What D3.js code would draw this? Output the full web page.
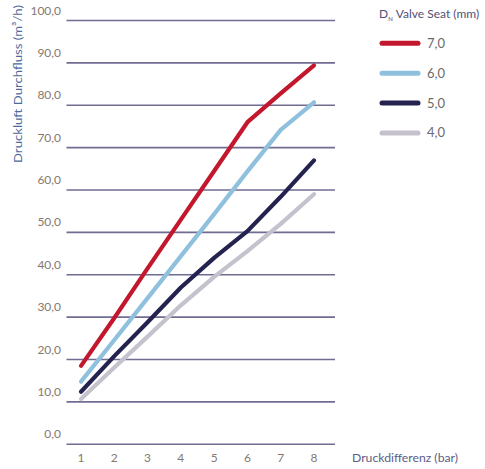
<!DOCTYPE html>
<html><head><meta charset="utf-8">
<script src="https://cdn.jsdelivr.net/npm/d3@7"></script>
<style>
html,body{margin:0;padding:0;background:#fff;}
svg{display:block;font-family:Lato,"Open Sans",sans-serif;}
</style></head>
<body>
<svg id="chart" width="485" height="469"></svg>
<script>
const xValues = [1, 2, 3, 4, 5, 6, 7, 8];
const yTicks = [0, 10, 20, 30, 40, 50, 60, 70, 80, 90, 100];
const seriesNames = ["7,0", "6,0", "5,0", "4,0"];
const seriesColors = ["#c3172e", "#8fc0dd", "#24234f", "#c5c2cd"];
const s70 = [18.5, 29.8, 41.5, 53.0, 64.5, 76.0, 82.8, 89.4];
const s60 = [14.8, 24.6, 34.5, 44.4, 54.3, 64.4, 74.2, 80.7];
const s50 = [12.4, 20.8, 28.8, 37.0, 44.0, 50.3, 58.4, 67.0];
const s40 = [10.7, 18.1, 25.4, 32.8, 39.5, 45.6, 52.0, 59.0];
const seriesValues = [s70, s60, s50, s40];
const xTitle = "Druckdifferenz (bar)";
const yTitle = "Druckluft Durchfluss (m³/h)";

const svg = d3.select("#chart");
const x = d3.scaleLinear().domain([1, 8]).range([81, 314]);
const y = d3.scaleLinear().domain([0, 100]).range([444.3, 20.5]);
const gridX0 = 66.5, gridX1 = 335;

const fmt = v => d3.format(".1f")(v).replace(".", ",");

// grid lines
svg.append("g").selectAll("line").data(yTicks).join("line")
  .attr("x1", gridX0).attr("x2", gridX1)
  .attr("y1", d => y(d)).attr("y2", d => y(d))
  .attr("stroke", "#6f6d92").attr("stroke-width", 1.6);

// y tick labels
svg.append("g").selectAll("text").data(yTicks).join("text")
  .attr("x", 61).attr("y", d => y(d) - 6)
  .attr("text-anchor", "end")
  .attr("font-size", 12).attr("fill", "#85796f")
  .text(d => fmt(d));

// x tick labels
svg.append("g").selectAll("text").data(xValues).join("text")
  .attr("x", d => x(d)).attr("y", 462)
  .attr("text-anchor", "middle")
  .attr("font-size", 12).attr("fill", "#85796f")
  .text(d => d);

// axis titles
svg.append("text").attr("x", 352).attr("y", 462)
  .attr("font-size", 12).attr("fill", "#5b5d86")
  .attr("textLength", 106).attr("lengthAdjust", "spacingAndGlyphs")
  .text(xTitle);
svg.append("text")
  .attr("transform", "translate(22,84) rotate(-90)")
  .attr("text-anchor", "middle")
  .attr("font-size", 12).attr("fill", "#4d6a9c")
  .attr("textLength", 158).attr("lengthAdjust", "spacingAndGlyphs")
  .text(yTitle);

// lines
const line = d3.line().x((d, i) => x(xValues[i])).y(d => y(d));
svg.append("g").selectAll("path").data(seriesValues.slice().reverse()).join("path")
  .attr("d", d => line(d))
  .attr("fill", "none")
  .attr("stroke", (d, i) => seriesColors[seriesColors.length - 1 - i])
  .attr("stroke-width", 4.2)
  .attr("stroke-linecap", "round")
  .attr("stroke-linejoin", "round");

// legend
const lg = svg.append("g");
const lt = lg.append("text").attr("x", 379).attr("y", 18)
  .attr("font-size", 12).attr("fill", "#4f5078");
lt.append("tspan").text("D");
lt.append("tspan").attr("font-size", 6).attr("dy", 3).text("N");
lt.append("tspan").attr("dy", -3).attr("dx", 3).text("Valve Seat (mm)");

const legendY = d3.scalePoint().domain(seriesNames).range([43.3, 132.9]);
lg.selectAll("line").data(seriesNames).join("line")
  .attr("x1", 382).attr("x2", 418)
  .attr("y1", d => legendY(d)).attr("y2", d => legendY(d))
  .attr("stroke", (d, i) => seriesColors[i])
  .attr("stroke-width", 5).attr("stroke-linecap", "round");
lg.selectAll("text.lbl").data(seriesNames).join("text").attr("class", "lbl")
  .attr("x", 427).attr("y", d => legendY(d) + 4.5)
  .attr("font-size", 13).attr("fill", "#6e6a6a")
  .text(d => d);
</script>
</body></html>
